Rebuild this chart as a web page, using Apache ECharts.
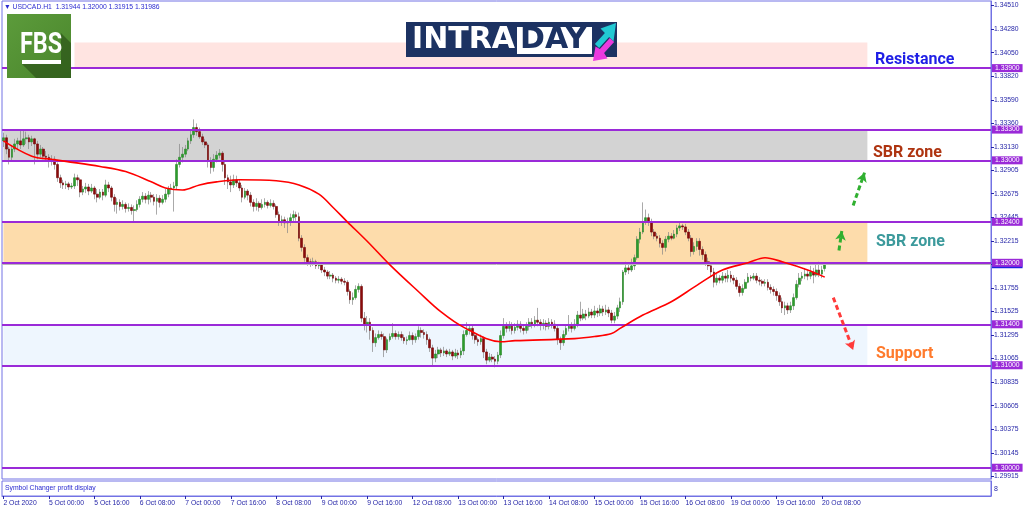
<!DOCTYPE html>
<html><head><meta charset="utf-8">
<script src="https://cdn.jsdelivr.net/npm/echarts@6/dist/echarts.min.js"></script>
<style>html,body{margin:0;padding:0;background:#fff}#c{width:1024px;height:511px}</style>
</head><body><div id="c"></div>
<script>
// ---- DATA ----
const open = [
1.3319,1.3322,1.3311,1.3303,1.3311,1.3316,1.3319,1.3315,1.3321,1.3322,1.3318,1.3321,1.3316,1.3306,1.3311,1.3304,
1.3303,1.3299,1.3301,1.3296,1.3283,1.3278,1.3276,1.3277,1.3274,1.3275,1.3283,1.3281,1.3269,1.3272,1.3274,1.3270,
1.3273,1.3267,1.3264,1.3269,1.3266,1.3276,1.3273,1.3264,1.3257,1.3259,1.3255,1.3257,1.3253,1.3254,1.3251,1.3252,
1.3257,1.3262,1.3265,1.3262,1.3266,1.3264,1.3260,1.3263,1.3259,1.3262,1.3267,1.3272,1.3273,1.3275,1.3296,1.3303,
1.3306,1.3311,1.3319,1.3325,1.3332,1.3328,1.3323,1.3318,1.3315,1.3299,1.3293,1.3301,1.3305,1.3307,1.3296,1.3283,
1.3279,1.3276,1.3281,1.3278,1.3273,1.3264,1.3270,1.3266,1.3259,1.3255,1.3258,1.3254,1.3257,1.3259,1.3256,1.3258,
1.3255,1.3247,1.3240,1.3242,1.3239,1.3240,1.3244,1.3247,1.3245,1.3224,1.3215,1.3205,1.3201,1.3200,1.3201,1.3197,
1.3198,1.3193,1.3191,1.3187,1.3188,1.3185,1.3183,1.3184,1.3182,1.3181,1.3172,1.3164,1.3166,1.3174,1.3177,1.3146,
1.3139,1.3142,1.3134,1.3122,1.3127,1.3130,1.3128,1.3115,1.3125,1.3128,1.3131,1.3128,1.3130,1.3127,1.3124,1.3125,
1.3129,1.3125,1.3128,1.3134,1.3132,1.3130,1.3125,1.3117,1.3107,1.3111,1.3115,1.3112,1.3114,1.3111,1.3113,1.3109,
1.3112,1.3110,1.3114,1.3130,1.3134,1.3136,1.3129,1.3125,1.3123,1.3126,1.3113,1.3105,1.3108,1.3106,1.3104,1.3110,
1.3129,1.3138,1.3136,1.3139,1.3134,1.3137,1.3140,1.3136,1.3134,1.3138,1.3142,1.3140,1.3144,1.3142,1.3139,1.3141,
1.3138,1.3142,1.3140,1.3136,1.3125,1.3122,1.3130,1.3136,1.3138,1.3136,1.3140,1.3149,1.3146,1.3150,1.3148,1.3152,
1.3149,1.3153,1.3151,1.3155,1.3152,1.3154,1.3151,1.3144,1.3148,1.3156,1.3162,1.3191,1.3195,1.3193,1.3197,1.3205,
1.3223,1.3230,1.3240,1.3244,1.3240,1.3230,1.3226,1.3224,1.3219,1.3215,1.3223,1.3226,1.3224,1.3228,1.3234,1.3236,
1.3235,1.3230,1.3224,1.3211,1.3216,1.3221,1.3213,1.3208,1.3201,1.3197,1.3191,1.3181,1.3185,1.3183,1.3187,1.3185,
1.3188,1.3185,1.3183,1.3177,1.3171,1.3175,1.3181,1.3186,1.3185,1.3187,1.3183,1.3182,1.3180,1.3181,1.3176,1.3174,
1.3172,1.3168,1.3162,1.3156,1.3158,1.3154,1.3158,1.3166,1.3179,1.3185,1.3187,1.3189,1.3187,1.3191,1.3188,1.3193,
1.3189,1.31944];
const close = [
1.3322,1.3311,1.3303,1.3311,1.3316,1.3319,1.3315,1.3321,1.3322,1.3318,1.3321,1.3316,1.3306,1.3311,1.3304,1.3303,
1.3299,1.3301,1.3296,1.3283,1.3278,1.3276,1.3277,1.3274,1.3275,1.3283,1.3281,1.3269,1.3272,1.3274,1.3270,1.3273,
1.3267,1.3264,1.3269,1.3266,1.3276,1.3273,1.3264,1.3257,1.3259,1.3255,1.3257,1.3253,1.3254,1.3251,1.3252,1.3257,
1.3262,1.3265,1.3262,1.3266,1.3264,1.3260,1.3263,1.3259,1.3262,1.3267,1.3272,1.3273,1.3275,1.3296,1.3303,1.3306,
1.3311,1.3319,1.3325,1.3332,1.3328,1.3323,1.3318,1.3315,1.3299,1.3293,1.3301,1.3305,1.3307,1.3296,1.3283,1.3279,
1.3276,1.3281,1.3278,1.3273,1.3264,1.3270,1.3266,1.3259,1.3255,1.3258,1.3254,1.3257,1.3259,1.3256,1.3258,1.3255,
1.3247,1.3240,1.3242,1.3239,1.3240,1.3244,1.3247,1.3245,1.3224,1.3215,1.3205,1.3201,1.3200,1.3201,1.3197,1.3198,
1.3193,1.3191,1.3187,1.3188,1.3185,1.3183,1.3184,1.3182,1.3181,1.3172,1.3164,1.3166,1.3174,1.3177,1.3146,1.3139,
1.3142,1.3134,1.3122,1.3127,1.3130,1.3128,1.3115,1.3125,1.3128,1.3131,1.3128,1.3130,1.3127,1.3124,1.3125,1.3129,
1.3125,1.3128,1.3134,1.3132,1.3130,1.3125,1.3117,1.3107,1.3111,1.3115,1.3112,1.3114,1.3111,1.3113,1.3109,1.3112,
1.3110,1.3114,1.3130,1.3134,1.3136,1.3129,1.3125,1.3123,1.3126,1.3113,1.3105,1.3108,1.3106,1.3104,1.3110,1.3129,
1.3138,1.3136,1.3139,1.3134,1.3137,1.3140,1.3136,1.3134,1.3138,1.3142,1.3140,1.3144,1.3142,1.3139,1.3141,1.3138,
1.3142,1.3140,1.3136,1.3125,1.3122,1.3130,1.3136,1.3138,1.3136,1.3140,1.3149,1.3146,1.3150,1.3148,1.3152,1.3149,
1.3153,1.3151,1.3155,1.3152,1.3154,1.3151,1.3144,1.3148,1.3156,1.3162,1.3191,1.3195,1.3193,1.3197,1.3205,1.3223,
1.3230,1.3240,1.3244,1.3240,1.3230,1.3226,1.3224,1.3219,1.3215,1.3223,1.3226,1.3224,1.3228,1.3234,1.3236,1.3235,
1.3230,1.3224,1.3211,1.3216,1.3221,1.3213,1.3208,1.3201,1.3197,1.3191,1.3181,1.3185,1.3183,1.3187,1.3185,1.3188,
1.3185,1.3183,1.3177,1.3171,1.3175,1.3181,1.3186,1.3185,1.3187,1.3183,1.3182,1.3180,1.3181,1.3176,1.3174,1.3172,
1.3168,1.3162,1.3156,1.3158,1.3154,1.3158,1.3166,1.3179,1.3185,1.3187,1.3189,1.3187,1.3191,1.3188,1.3193,1.3189,
1.3193,1.31986];
const high = [
1.3327,1.3325,1.3313,1.3315,1.3321,1.3322,1.3329,1.3329,1.3328,1.3325,1.3324,1.3322,1.3319,1.3315,1.3313,1.3309,
1.3306,1.3305,1.3304,1.3298,1.3286,1.3281,1.3280,1.3279,1.3278,1.3287,1.3286,1.3283,1.3275,1.3278,1.3277,1.3277,
1.3275,1.3272,1.3272,1.3272,1.3281,1.3279,1.3275,1.3267,1.3263,1.3262,1.3261,1.3259,1.3258,1.3257,1.3256,1.3261,
1.3265,1.3269,1.3268,1.3270,1.3269,1.3267,1.3267,1.3266,1.3266,1.3272,1.3275,1.3277,1.3279,1.3301,1.3316,1.3313,
1.3315,1.3322,1.3330,1.3340,1.3336,1.3332,1.3326,1.3321,1.3317,1.3303,1.3306,1.3309,1.3311,1.3309,1.3299,1.3286,
1.3285,1.3286,1.3285,1.3281,1.3276,1.3273,1.3272,1.3269,1.3262,1.3263,1.3260,1.3262,1.3263,1.3261,1.3262,1.3261,
1.3257,1.3250,1.3246,1.3245,1.3244,1.3248,1.3251,1.3250,1.3249,1.3227,1.3218,1.3208,1.3204,1.3205,1.3203,1.3201,
1.3200,1.3196,1.3193,1.3192,1.3190,1.3187,1.3187,1.3186,1.3185,1.3183,1.3174,1.3171,1.3178,1.3180,1.3179,1.3152,
1.3148,1.3146,1.3137,1.3131,1.3134,1.3133,1.3131,1.3127,1.3131,1.3141,1.3134,1.3133,1.3133,1.3130,1.3128,1.3133,
1.3132,1.3131,1.3138,1.3137,1.3135,1.3133,1.3127,1.3120,1.3115,1.3118,1.3117,1.3118,1.3116,1.3116,1.3115,1.3116,
1.3115,1.3117,1.3134,1.3142,1.3140,1.3139,1.3132,1.3127,1.3130,1.3128,1.3116,1.3112,1.3111,1.3109,1.3113,1.3134,
1.3146,1.3142,1.3143,1.3142,1.3141,1.3144,1.3143,1.3139,1.3142,1.3146,1.3146,1.3148,1.3156,1.3145,1.3145,1.3144,
1.3146,1.3145,1.3144,1.3139,1.3128,1.3134,1.3140,1.3149,1.3142,1.3145,1.3153,1.3162,1.3155,1.3154,1.3156,1.3155,
1.3158,1.3156,1.3159,1.3158,1.3159,1.3157,1.3154,1.3152,1.3159,1.3166,1.3193,1.3201,1.3198,1.3204,1.3208,1.3226,
1.3234,1.3259,1.3252,1.3248,1.3243,1.3233,1.3229,1.3227,1.3222,1.3226,1.3230,1.3229,1.3232,1.3237,1.3239,1.3238,
1.3238,1.3233,1.3227,1.3220,1.3224,1.3224,1.3216,1.3211,1.3205,1.3200,1.3195,1.3189,1.3188,1.3191,1.3190,1.3193,
1.3192,1.3188,1.3186,1.3180,1.3179,1.3184,1.3190,1.3188,1.3190,1.3190,1.3186,1.3184,1.3184,1.3184,1.3179,1.3177,
1.3175,1.3171,1.3166,1.3162,1.3161,1.3162,1.3170,1.3183,1.3190,1.3191,1.3195,1.3193,1.3197,1.3195,1.3199,1.3201,
1.3197,1.32000];
const low = [
1.3313,1.3306,1.3296,1.3299,1.3308,1.3311,1.3311,1.3313,1.3316,1.3311,1.3314,1.3296,1.3301,1.3303,1.3301,1.3299,
1.3293,1.3295,1.3291,1.3279,1.3273,1.3272,1.3272,1.3271,1.3272,1.3272,1.3275,1.3264,1.3266,1.3268,1.3266,1.3268,
1.3262,1.3259,1.3262,1.3261,1.3264,1.3269,1.3260,1.3250,1.3248,1.3251,1.3252,1.3249,1.3250,1.3247,1.3240,1.3250,
1.3254,1.3259,1.3258,1.3257,1.3259,1.3256,1.3247,1.3254,1.3257,1.3259,1.3264,1.3267,1.3250,1.3272,1.3293,1.3298,
1.3303,1.3309,1.3316,1.3322,1.3324,1.3321,1.3315,1.3312,1.3293,1.3287,1.3289,1.3298,1.3302,1.3289,1.3276,1.3272,
1.3269,1.3273,1.3274,1.3270,1.3259,1.3262,1.3261,1.3255,1.3250,1.3251,1.3250,1.3252,1.3254,1.3253,1.3254,1.3252,
1.3244,1.3236,1.3236,1.3234,1.3229,1.3236,1.3240,1.3241,1.3221,1.3211,1.3201,1.3197,1.3196,1.3197,1.3194,1.3194,
1.3190,1.3187,1.3184,1.3184,1.3181,1.3180,1.3180,1.3179,1.3178,1.3168,1.3160,1.3159,1.3164,1.3171,1.3142,1.3134,
1.3132,1.3125,1.3113,1.3118,1.3125,1.3125,1.3108,1.3112,1.3123,1.3126,1.3125,1.3125,1.3124,1.3121,1.3120,1.3124,
1.3120,1.3122,1.3125,1.3127,1.3126,1.3120,1.3113,1.3100,1.3103,1.3107,1.3108,1.3109,1.3108,1.3109,1.3105,1.3107,
1.3106,1.3107,1.3110,1.3128,1.3130,1.3125,1.3121,1.3119,1.3120,1.3107,1.3101,1.3103,1.3103,1.3098,1.3101,1.3107,
1.3126,1.3132,1.3133,1.3130,1.3131,1.3134,1.3132,1.3130,1.3131,1.3134,1.3136,1.3137,1.3138,1.3134,1.3135,1.3134,
1.3135,1.3136,1.3133,1.3120,1.3115,1.3119,1.3128,1.3133,1.3132,1.3134,1.3137,1.3143,1.3144,1.3144,1.3146,1.3146,
1.3146,1.3147,1.3148,1.3148,1.3149,1.3147,1.3141,1.3141,1.3145,1.3152,1.3159,1.3188,1.3189,1.3191,1.3193,1.3203,
1.3219,1.3228,1.3237,1.3236,1.3226,1.3223,1.3221,1.3215,1.3208,1.3211,1.3220,1.3222,1.3223,1.3225,1.3231,1.3232,
1.3227,1.3221,1.3206,1.3208,1.3212,1.3207,1.3203,1.3197,1.3193,1.3187,1.3176,1.3178,1.3180,1.3180,1.3181,1.3181,
1.3181,1.3179,1.3174,1.3167,1.3168,1.3174,1.3180,1.3182,1.3183,1.3180,1.3178,1.3177,1.3177,1.3173,1.3170,1.3168,
1.3163,1.3158,1.3151,1.3149,1.3150,1.3151,1.3154,1.3164,1.3176,1.3182,1.3184,1.3183,1.3184,1.3180,1.3186,1.3186,
1.3185,1.31915];
// moving average read at sample bars
const maBars = [0,10,17,22,34,43,52,57,63,69,75,83,96,104,111,116,121,128,136,146,154,162,175,180,201,208,214,217,225,235,244,253,262,268,274,283,289];
const maValues = [1.3319,1.3304,1.3301,1.3299,1.3294,1.3289,1.3279,1.3273,1.3271,1.3276,1.3279,1.3281,1.3280,1.3276,1.3267,1.3254,1.3240,1.3221,1.3198,1.3172,1.3152,1.3137,1.3123,1.3124,1.3126,1.3128,1.3131,1.3136,1.3149,1.3162,1.3178,1.3193,1.3200,1.3205,1.3201,1.3193,1.3186];
const xTickLabels = ["2 Oct 2020","5 Oct 00:00","5 Oct 16:00","6 Oct 08:00","7 Oct 00:00","7 Oct 16:00","8 Oct 08:00","9 Oct 00:00","9 Oct 16:00","12 Oct 08:00","13 Oct 00:00","13 Oct 16:00","14 Oct 08:00","15 Oct 00:00","15 Oct 16:00","16 Oct 08:00","19 Oct 00:00","19 Oct 16:00","20 Oct 08:00"];
const yTickValues = [1.34510,1.34280,1.34050,1.33820,1.33590,1.33360,1.33130,1.32905,1.32675,1.32445,1.32215,1.31985,1.31755,1.31525,1.31295,1.31065,1.30835,1.30605,1.30375,1.30145,1.29915];
const levels = [1.339,1.333,1.330,1.324,1.320,1.314,1.310,1.300];
const bidPrice = 1.31986;
const zoneLow = [1.3390,1.3300,1.3200,1.3100];
const zoneHigh = [1.3415,1.3330,1.3240,1.3140];
const zoneStart = [25,0,0,0];
const zoneEnd = 304;
const arrowFrom = [[298.6,1.3256],[294.0,1.3212],[291.9,1.3166]];
const arrowTo   = [[302.5,1.3288],[295.4,1.3231],[298.6,1.3115]];

// ---- STYLE ----
const N = 348;
const YMIN = 1.2989, YMAX = 1.34555;
const BORDER = '#7272e4', TXT = '#2626a8', PURPLE = '#9a2ad8';
const zoneColors = ['#ffe4e1','#d3d3d3','#fddcab','#eef6fe'];
const arrowColors = ['#30b030','#30b030','#ff3a3a'];
const FONT = '"Liberation Sans", Arial, sans-serif';

const cats = Array.from({length:N},(_,i)=>String(i));
const wickData = open.map((o,i)=>[o,close[i],low[i],high[i]]);
const bodyData = open.map((o,i)=>[o,close[i],Math.min(o,close[i]),Math.max(o,close[i])]);
const maLine = new Array(N).fill(null);
maBars.forEach((b,j)=>{maLine[b]=maValues[j];});
const empty = new Array(N).fill(null);
const showTick = (i)=> i%16===0 && i/16 < xTickLabels.length;

const chart = echarts.init(document.getElementById('c'), null, {renderer:'canvas'});
const last = open.length-1;
const header = '\u25BC USDCAD.H1  ' + [open[last],high[last],low[last],close[last]].map(v=>v.toFixed(5)).join(' ');

const option = {
  animation:false,
  backgroundColor:'#ffffff',
  grid:[
    {left:2,right:33,top:1,height:478,show:true,borderColor:BORDER,borderWidth:1,backgroundColor:'#fff'},
    {left:2,right:33,top:481,height:15,show:true,borderColor:BORDER,borderWidth:1,backgroundColor:'#fff'}
  ],
  xAxis:[
    {type:'category',data:cats,gridIndex:0,axisLine:{show:false},axisTick:{show:false},axisLabel:{show:false},splitLine:{show:false}},
    {type:'category',data:cats,gridIndex:1,axisLine:{show:true,lineStyle:{color:BORDER}},
     axisTick:{show:true,alignWithLabel:true,interval:(i)=>showTick(i),length:3,lineStyle:{color:TXT}},
     axisLabel:{interval:(i)=>showTick(i),formatter:(v,i)=>(i%16===0 && xTickLabels[i/16])||'',align:'left',margin:4,fontSize:6.8,color:TXT,fontFamily:FONT},
     splitLine:{show:false}}
  ],
  yAxis:[
    {type:'value',gridIndex:0,position:'right',min:YMIN,max:YMAX,scale:true,splitLine:{show:false},
     axisLine:{show:true,lineStyle:{color:BORDER}},
     axisTick:{show:true,customValues:yTickValues,length:3,lineStyle:{color:TXT}},
     axisLabel:{customValues:yTickValues,formatter:(v)=>v.toFixed(5),fontSize:6.8,color:TXT,margin:3,fontFamily:FONT}},
    {type:'value',gridIndex:1,position:'right',min:0,max:1,splitLine:{show:false},
     axisLine:{show:true,lineStyle:{color:BORDER}},axisTick:{show:false},axisLabel:{show:false}}
  ],
  series:[
    {type:'line',name:'zones',data:empty,z:1,silent:true,symbol:'none',
     markArea:{silent:true,data:zoneLow.map((lo,k)=>[
       {xAxis:zoneStart[k],yAxis:zoneHigh[k],itemStyle:{color:zoneColors[k]}},
       {xAxis:zoneEnd,yAxis:lo}])}},
    {type:'line',name:'levels',data:empty,z:2,silent:true,symbol:'none',
     markLine:{silent:true,symbol:'none',animation:false,precision:5,
       label:{show:true,position:'end',distance:1,formatter:(p)=>Number(p.value).toFixed(5),color:'#fff',backgroundColor:PURPLE,padding:[1,3,0,3],fontSize:6.8,fontFamily:FONT},
       lineStyle:{color:PURPLE,width:2,type:'solid'},
       data:[{yAxis:bidPrice,lineStyle:{color:'#b8b8b8',width:1},label:{backgroundColor:'#1f1fe0'}}].concat(levels.map(v=>({yAxis:v})))}},
    {type:'candlestick',name:'wick',xAxisIndex:0,yAxisIndex:0,data:wickData,z:3,barWidth:1,silent:true,
     itemStyle:{color:'#858585',color0:'#858585',borderColor:'#858585',borderColor0:'#858585',borderWidth:0.7}},
    {type:'candlestick',name:'body',xAxisIndex:0,yAxisIndex:0,data:bodyData,z:4,barWidth:2.2,silent:true,
     itemStyle:{color:'#2c9c2c',color0:'#8b0b0b',borderColor:'#288a28',borderColor0:'#760808',borderWidth:0.6}},
    {type:'line',name:'MA',data:maLine,z:5,connectNulls:true,smooth:0.35,showSymbol:false,symbol:'none',silent:true,
     lineStyle:{color:'#ff0000',width:1.6}},
    {type:'line',name:'arrows',data:empty,z:6,silent:true,symbol:'none',
     markLine:{silent:true,symbol:['none','arrow'],symbolSize:[8,9],precision:5,label:{show:false},
       data:arrowFrom.map((f,k)=>[
         {coord:f,lineStyle:{color:arrowColors[k],width:3,type:[5,3]},itemStyle:{color:arrowColors[k]}},
         {coord:arrowTo[k]}])}}
  ],
  graphic:[
    {type:'text',x:4,y:7,z:10,style:{text:header,fill:'#2a2ad0',font:'6.8px '+FONT,verticalAlign:'middle'}},
    {type:'text',x:5,y:488,z:10,style:{text:'Symbol Changer profit display',fill:'#2a2ad0',font:'6.8px '+FONT,verticalAlign:'middle'}},
    {type:'text',x:994,y:489,z:10,style:{text:'8',fill:TXT,font:'7px '+FONT,verticalAlign:'middle'}},
    // FBS logo
    {type:'rect',z:10,shape:{x:7,y:14,width:64,height:64},style:{fill:new echarts.graphic.LinearGradient(0,0,1,1,[{offset:0,color:'#5c9b3b'},{offset:1,color:'#4a862c'}])}},
    {type:'polygon',z:11,shape:{points:[[61,33],[71,43],[71,78],[36,78],[22,64],[61,64]]},style:{fill:'rgba(35,70,18,0.55)'}},
    {type:'text',x:41,y:45,z:12,scaleX:0.78,style:{text:'FBS',fill:'#ffffff',font:'bold 30px Roboto',align:'center',verticalAlign:'middle'}},
    {type:'rect',z:12,shape:{x:22,y:60,width:39,height:4},style:{fill:'#ffffff'}},
    // INTRADAY logo
    {type:'rect',z:10,shape:{x:406,y:22,width:211,height:35},style:{fill:'#1c3262'}},
    {type:'text',x:412,y:40,z:11,style:{text:'INTRA',fill:'#ffffff',font:'bold 30px "DejaVu Sans"',verticalAlign:'middle'}},
    {type:'rect',z:11,shape:{x:517,y:27,width:75,height:27},style:{fill:'#ffffff'}},
    {type:'text',x:520,y:40,z:12,style:{text:'DAY',fill:'#1c3262',font:'bold 30px "DejaVu Sans"',verticalAlign:'middle'}},
    {type:'polygon',z:11,shape:{points:[[594.9,43.9],[604.9,32.9],[600.5,28.5],[616,23],[613.5,41.5],[609.1,37.1],[599.1,48.1]]},style:{fill:'#22c9d3'}},
    {type:'polygon',z:11,shape:{points:[[609.9,37.9],[599.9,48.9],[595.5,46.5],[593,61],[607.5,58.5],[604.1,53.1],[614.1,42.1]]},style:{fill:'#ea3ade'}},
    // zone captions
    {type:'text',x:875,y:60,z:10,style:{text:'Resistance',fill:'#1f1fe6',font:'bold 16px Roboto',verticalAlign:'middle'}},
    {type:'text',x:873,y:153,z:10,style:{text:'SBR zone',fill:'#ae3410',font:'bold 16px Roboto',verticalAlign:'middle'}},
    {type:'text',x:876,y:242,z:10,style:{text:'SBR zone',fill:'#3c9a9c',font:'bold 16px Roboto',verticalAlign:'middle'}},
    {type:'text',x:876,y:354,z:10,style:{text:'Support',fill:'#ff7a2c',font:'bold 16px Roboto',verticalAlign:'middle'}}
  ]
};
chart.setOption(option);
</script>
</body></html>
